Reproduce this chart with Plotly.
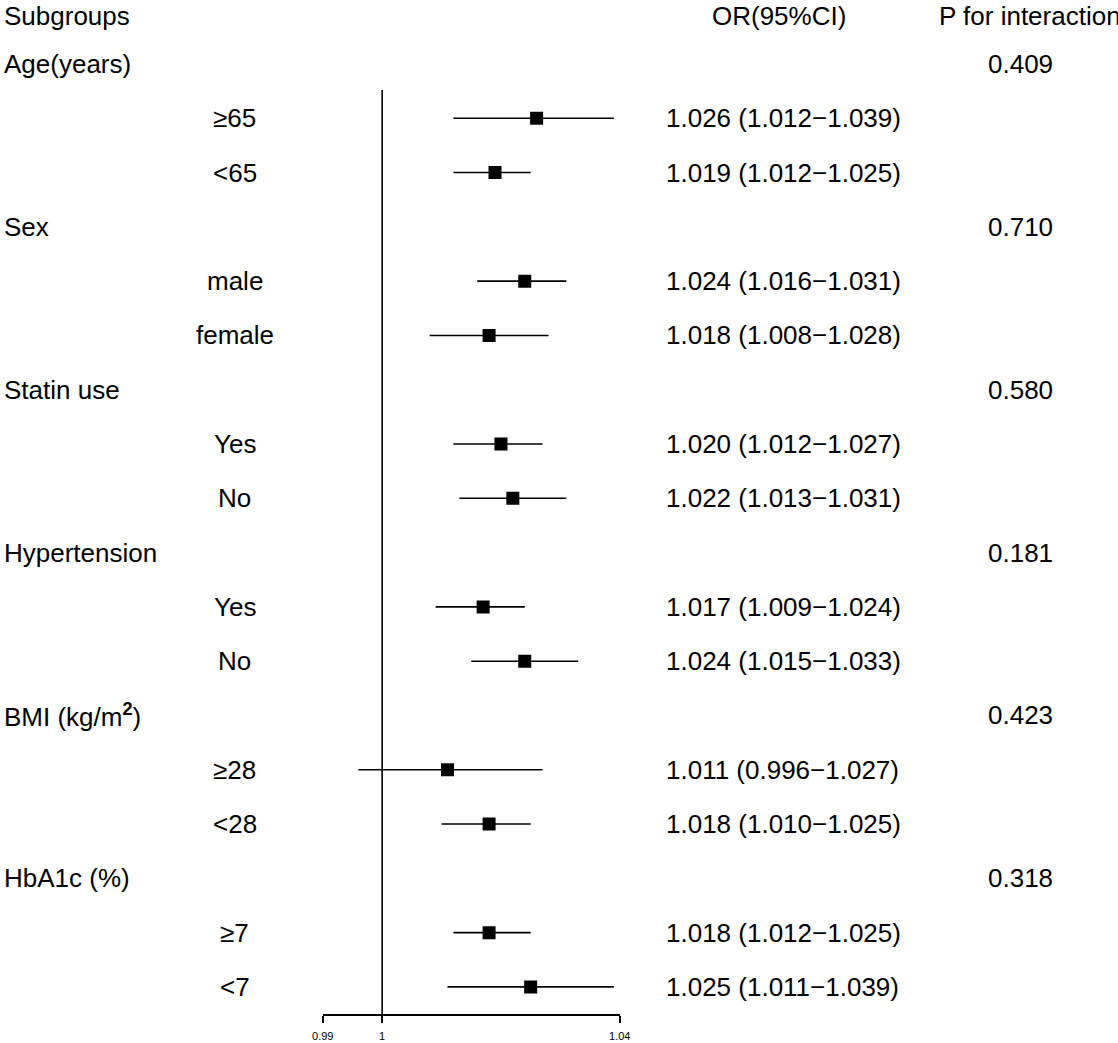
import plotly.graph_objects as go

# --- datos ---
groups = ["Age(years)", "Sex", "Statin use", "Hypertension",
          "BMI (kg/m<sup><b>2</b></sup>)", "HbA1c (%)"]
p_inter = ["0.409", "0.710", "0.580", "0.181", "0.423", "0.318"]
subgroups = [["≥65", "<65"], ["male", "female"], ["Yes", "No"],
             ["Yes", "No"], ["≥28", "<28"], ["≥7", "<7"]]
or_val = [[1.026, 1.019], [1.024, 1.018], [1.020, 1.022],
          [1.017, 1.024], [1.011, 1.018], [1.018, 1.025]]
ci_lo = [[1.012, 1.012], [1.016, 1.008], [1.012, 1.013],
         [1.009, 1.015], [0.996, 1.010], [1.012, 1.011]]
ci_hi = [[1.039, 1.025], [1.031, 1.028], [1.027, 1.031],
         [1.024, 1.033], [1.027, 1.025], [1.025, 1.039]]
tick_vals = [0.99, 1, 1.04]
tick_text = ["0.99", "1", "1.04"]

W, H = 1118, 1043
FONT = "Liberation Sans, Arial, sans-serif"
FS = 26

rows_y, rows_or, rows_lo, rows_hi = [], [], [], []
annots = []

def txt(x, y, s, anchor="left", size=FS):
    annots.append(dict(x=x, y=y, xref="paper", yref="y", text=s,
                       showarrow=False, xanchor=anchor, yanchor="middle",
                       borderpad=0,
                       font=dict(family=FONT, size=size, color="black")))

def head(x, s, anchor="left"):
    annots.append(dict(x=x, y=1, xref="paper", yref="paper", text=s,
                       showarrow=False, xanchor=anchor, yanchor="top",
                       borderpad=0,
                       font=dict(family=FONT, size=FS, color="black")))

# encabezados
head(-8 / W, "Subgroups")
head(783 / W, "OR(95%CI)", anchor="center")
head(946 / W, "P for interaction")

r = 1
for g, p, subs, ors, los, his in zip(groups, p_inter, subgroups, or_val, ci_lo, ci_hi):
    txt(-8 / W, r, g)
    txt(1030 / W, r, p, anchor="center")
    r += 1
    for s, o, lo, hi in zip(subs, ors, los, his):
        txt(228 / W, r, s, anchor="center")
        txt(667 / W, r, f"{o:.3f} ({lo:.3f}\u2212{hi:.3f})")
        rows_y.append(r)
        rows_or.append(o)
        rows_lo.append(lo)
        rows_hi.append(hi)
        r += 1

fig = go.Figure()

fig.add_trace(go.Scatter(
    x=rows_or, y=rows_y, mode="markers",
    marker=dict(symbol="square", size=13, color="black"),
    error_x=dict(type="data", symmetric=False,
                 array=[h - o for h, o in zip(rows_hi, rows_or)],
                 arrayminus=[o - l for o, l in zip(rows_or, rows_lo)],
                 color="black", thickness=1.6, width=0),
    showlegend=False, hoverinfo="skip"
))

# linea de referencia en OR = 1
step = 54.29
y0 = -9.7 / step
fig.add_shape(type="line", xref="x", yref="y", x0=1, x1=1,
              y0=90 / step + y0, y1=1015 / step + y0,
              line=dict(color="black", width=1.6))

fig.update_layout(
    width=W, height=H,
    margin=dict(l=0, r=0, t=0, b=0),
    paper_bgcolor="white", plot_bgcolor="white",
    font=dict(family=FONT, color="black"),
    annotations=annots,
    xaxis=dict(domain=[318 / W, 621 / W], range=[0.99, 1.04],
               anchor="free", position=1 - 1015 / H,
               showline=True, linecolor="black", linewidth=2,
               ticks="outside", ticklen=7, tickwidth=2, tickcolor="black",
               tickvals=tick_vals, ticktext=tick_text,
               tickfont=dict(size=11, family=FONT),
               ticklabelstandoff=4,
               showgrid=False, zeroline=False),
    yaxis=dict(domain=[0, 1], range=[y0 + H / step, y0],
               visible=False, showgrid=False, zeroline=False),
)

fig.write_html("out.html", config={"displayModeBar": False},
               post_script="document.body.style.margin='0px';")
